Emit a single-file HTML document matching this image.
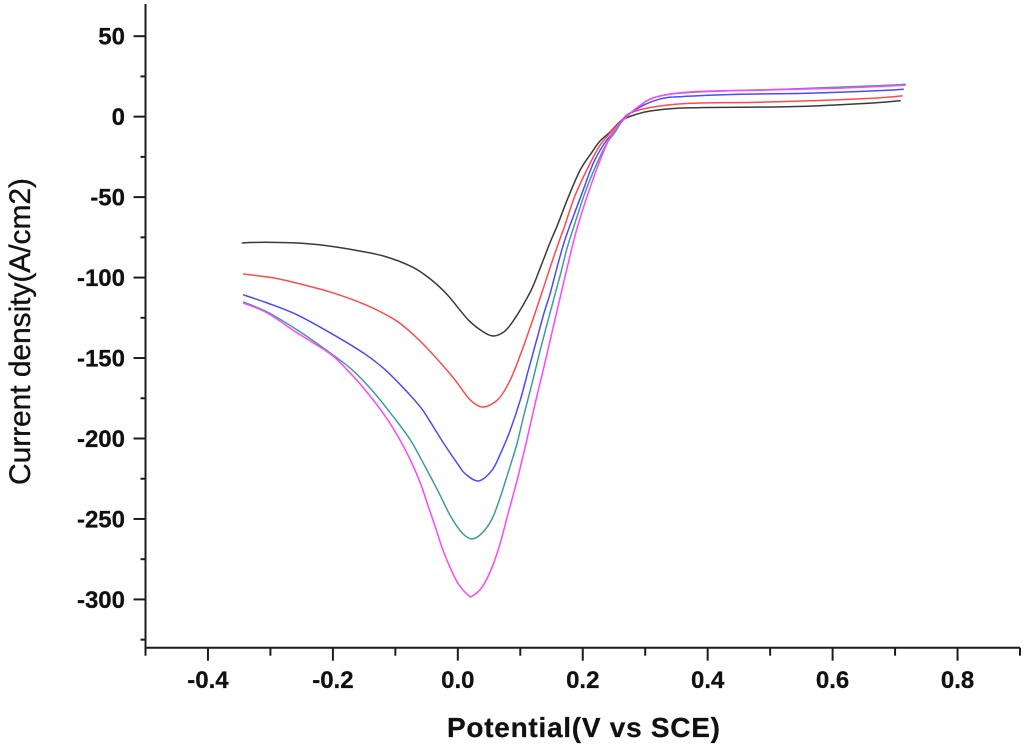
<!DOCTYPE html>
<html lang="en">
<head>
<meta charset="utf-8">
<title>Current density vs potential</title>
<style>
html,body{margin:0;padding:0;background:#fff;}
body{width:1024px;height:746px;overflow:hidden;}
svg{display:block;filter:blur(0.35px);}
text{font-family:"Liberation Sans",sans-serif;fill:#111;}
.tick-label{font-size:24px;font-weight:bold;stroke:#111;stroke-width:0.25;}
</style>
</head>
<body>
<svg id="chart" xmlns="http://www.w3.org/2000/svg" width="1024" height="746" viewBox="0 0 1024 746">
<rect x="0" y="0" width="1024" height="746" fill="#ffffff"/>
<g id="curves" fill="none" stroke-width="1.5" stroke-linejoin="round" stroke-linecap="round"></g>
<g id="axes" stroke="#1c1c1c" stroke-width="2" fill="none"></g>
<g id="labels"></g>
<text x="447" y="737" font-size="28" font-weight="bold" stroke="#111" stroke-width="0.25" textLength="273" lengthAdjust="spacing">Potential(V vs SCE)</text>
<text transform="translate(30,485) rotate(-90)" font-size="30" stroke="#111" stroke-width="0.35" textLength="307" lengthAdjust="spacing">Current density(A/cm2)</text>
</svg>
<script>
const xMajorTicks = [-0.4, -0.2, 0.0, 0.2, 0.4, 0.6, 0.8];
const xMinorTicks = [-0.5, -0.3, -0.1, 0.1, 0.3, 0.5, 0.7, 0.9];
const xTickLabels = ["-0.4", "-0.2", "0.0", "0.2", "0.4", "0.6", "0.8"];
const yMajorTicks = [50, 0, -50, -100, -150, -200, -250, -300];
const yMinorTicks = [25, -25, -75, -125, -175, -225, -275, -325];
const yTickLabels = ["50", "0", "-50", "-100", "-150", "-200", "-250", "-300"];

const blackV = [-0.345,-0.332,-0.300,-0.257,-0.220,-0.167,-0.119,-0.073,-0.044,-0.017,0.017,0.041,0.057,0.073,0.084,0.100,0.119,0.135,0.148,0.159,0.177,0.196,0.215,0.228,0.244,0.263,0.287,0.308,0.345,0.399,0.505,0.575,0.665,0.708];
const blackI = [-78.5,-78.2,-78.1,-78.5,-79.7,-82.8,-86.6,-93.4,-100.9,-110.6,-126.4,-133.8,-136.3,-134.0,-129.5,-120.1,-106.5,-90.9,-77.9,-67.9,-49.9,-33.1,-21.9,-15.0,-9.5,-2.1,1.6,3.5,5.1,5.7,6.0,6.7,8.5,9.9];

const redV = [-0.343,-0.295,-0.252,-0.204,-0.151,-0.103,-0.076,-0.044,-0.007,0.020,0.041,0.065,0.084,0.100,0.121,0.137,0.148,0.164,0.170,0.188,0.212,0.228,0.244,0.263,0.276,0.313,0.372,0.473,0.559,0.665,0.711];
const redI = [-97.8,-100.2,-104.0,-109.0,-116.4,-125.7,-133.8,-146.0,-162.4,-176.1,-180.4,-175.5,-163.6,-148.1,-125.1,-106.5,-93.4,-75.4,-69.2,-48.7,-28.8,-17.6,-10.1,-2.1,2.3,6.0,8.3,8.9,9.8,11.4,12.9];

const blueV = [-0.343,-0.305,-0.257,-0.204,-0.151,-0.116,-0.081,-0.060,-0.049,-0.023,0.001,0.012,0.033,0.055,0.071,0.084,0.100,0.113,0.127,0.138,0.148,0.159,0.169,0.178,0.199,0.217,0.233,0.249,0.263,0.292,0.324,0.356,0.452,0.559,0.665,0.713];
const blueI = [-110.8,-115.8,-123.2,-134.4,-146.9,-157.4,-171.1,-180.4,-186.6,-202.8,-216.5,-222.0,-226.4,-219.6,-207.0,-194.7,-176.1,-157.4,-137.6,-122.0,-109.6,-93.4,-79.5,-69.2,-47.4,-28.8,-17.6,-9.5,-2.1,6.0,11.0,12.4,13.9,14.5,16.0,17.0];

const tealV = [-0.343,-0.305,-0.257,-0.204,-0.169,-0.135,-0.103,-0.076,-0.052,-0.031,-0.012,0.007,0.023,0.039,0.055,0.068,0.081,0.095,0.105,0.119,0.132,0.148,0.164,0.175,0.185,0.204,0.223,0.239,0.252,0.265,0.292,0.319,0.377,0.532,0.665,0.716];
const tealI = [-115.2,-121.4,-132.6,-146.9,-157.4,-171.1,-186.6,-200.9,-217.7,-233.2,-248.0,-258.7,-262.4,-258.7,-249.8,-236.4,-220.6,-202.8,-186.6,-165.5,-145.0,-121.4,-98.4,-81.6,-69.2,-46.8,-28.8,-16.3,-9.5,-2.1,7.0,12.4,15.2,17.2,19.1,20.1];

const magentaV = [-0.343,-0.305,-0.257,-0.204,-0.177,-0.151,-0.121,-0.097,-0.076,-0.060,-0.047,-0.036,-0.025,-0.012,0.001,0.017,0.023,0.039,0.055,0.068,0.079,0.095,0.108,0.124,0.137,0.161,0.175,0.191,0.212,0.228,0.244,0.257,0.268,0.292,0.319,0.377,0.505,0.612,0.716];
const magentaI = [-115.8,-122.0,-134.4,-147.5,-157.4,-168.6,-183.5,-197.8,-213.4,-227.7,-242.6,-255.0,-268.1,-280.5,-290.5,-297.5,-297.9,-292.3,-279.8,-264.9,-248.8,-225.8,-205.0,-177.9,-157.0,-117.0,-94.0,-69.2,-43.7,-26.9,-12.6,-5.2,-0.8,7.0,12.4,15.5,16.6,17.7,19.5];

const SVG_NS = "http://www.w3.org/2000/svg";
const xMin = -0.5, xMax = 0.9, xLeft = 145.5, xRight = 1020;
const yMin = -330, yMax = 70, yBottom = 647.7, yTop = 4;

function xScale(v) {
  return xLeft + (v - xMin) / (xMax - xMin) * (xRight - xLeft);
}
function yScale(v) {
  return yBottom - (v - yMin) / (yMax - yMin) * (yBottom - yTop);
}
function smoothPath(vs, is) {
  const pts = vs.map(function (v, k) { return [xScale(v), yScale(is[k])]; });
  let d = "M" + pts[0][0].toFixed(2) + " " + pts[0][1].toFixed(2);
  for (let k = 0; k < pts.length - 1; k++) {
    const p0 = pts[Math.max(k - 1, 0)];
    const p1 = pts[k];
    const p2 = pts[k + 1];
    const p3 = pts[Math.min(k + 2, pts.length - 1)];
    const t = 0.16;
    d += "C" + (p1[0] + (p2[0] - p0[0]) * t).toFixed(2) + " " + (p1[1] + (p2[1] - p0[1]) * t).toFixed(2) +
         " " + (p2[0] - (p3[0] - p1[0]) * t).toFixed(2) + " " + (p2[1] - (p3[1] - p1[1]) * t).toFixed(2) +
         " " + p2[0].toFixed(2) + " " + p2[1].toFixed(2);
  }
  return d;
}
function addLine(x1, y1, x2, y2, name) {
  const el = document.createElementNS(SVG_NS, "line");
  el.setAttribute("x1", x1);
  el.setAttribute("y1", y1);
  el.setAttribute("x2", x2);
  el.setAttribute("y2", y2);
  
  
  document.getElementById("axes").appendChild(el);
}
function addLabel(x, y, anchor, str, name) {
  const el = document.createElementNS(SVG_NS, "text");
  el.setAttribute("x", x);
  el.setAttribute("y", y);
  el.setAttribute("text-anchor", anchor);
  el.setAttribute("class", "tick-label");
  
  
  el.textContent = str;
  document.getElementById("labels").appendChild(el);
}
function addCurve(vs, is, color, name) {
  const el = document.createElementNS(SVG_NS, "path");
  el.setAttribute("d", smoothPath(vs, is));
  el.setAttribute("stroke", color);
  
  
  document.getElementById("curves").appendChild(el);
}

addCurve(blackV, blackI, "#3a3a3a", "curve-black");
addCurve(redV, redI, "#ff4a4a", "curve-red");
addCurve(blueV, blueI, "#4a4aff", "curve-blue");
addCurve(tealV, tealI, "#3f9c9c", "curve-teal");
addCurve(magentaV, magentaI, "#ff45ff", "curve-magenta");

addLine(xLeft, yTop, xLeft, yBottom + 1, "y-axis-line");
addLine(xLeft - 1, yBottom, xRight, yBottom, "x-axis-line");

xMajorTicks.forEach(function (v, k) {
  addLine(xScale(v), yBottom, xScale(v), yBottom + 13, "x-major-tick");
  addLabel(xScale(v), 688, "middle", xTickLabels[k], "x-tick-label");
});
xMinorTicks.forEach(function (v) {
  addLine(xScale(v), yBottom, xScale(v), yBottom + 8, "x-minor-tick");
});
yMajorTicks.forEach(function (v, k) {
  addLine(xLeft - 12, yScale(v), xLeft, yScale(v), "y-major-tick");
  addLabel(125, yScale(v) + 8.5, "end", yTickLabels[k], "y-tick-label");
});
yMinorTicks.forEach(function (v) {
  addLine(xLeft - 5, yScale(v), xLeft, yScale(v), "y-minor-tick");
});
</script>
</body>
</html>
